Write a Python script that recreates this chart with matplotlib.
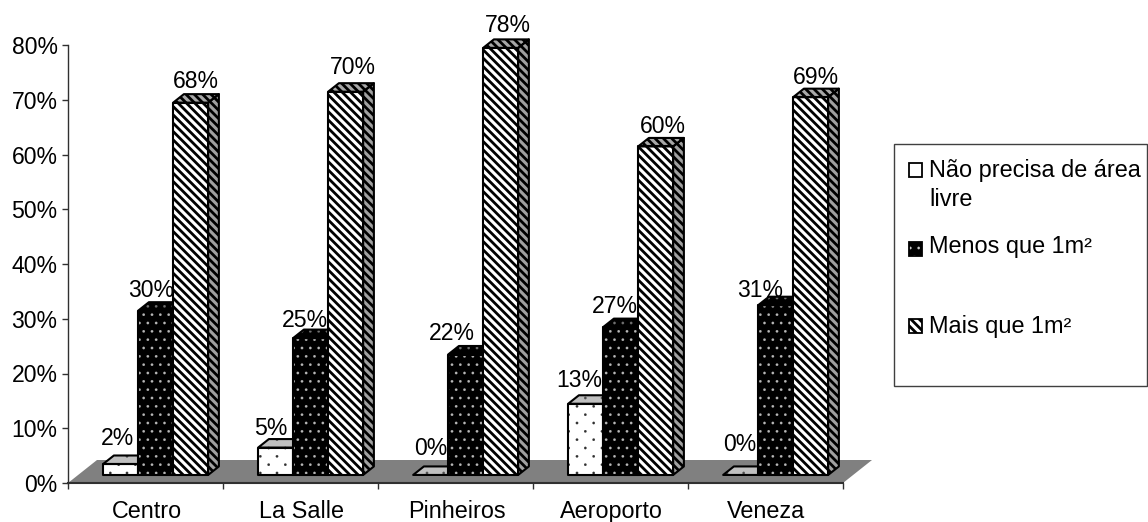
import numpy as np
import matplotlib
matplotlib.use("Agg")
import matplotlib.pyplot as plt
from matplotlib import hatch as mhatch
from matplotlib.path import Path
from matplotlib.patches import Polygon, Rectangle

plt.rcParams['font.family'] = ['Liberation Sans', 'DejaVu Sans']

categories = ['Centro', 'La Salle', 'Pinheiros', 'Aeroporto', 'Veneza']
series_names = ['Não precisa de área\nlivre', 'Menos que 1m²', 'Mais que 1m²']
sem_area = [2, 5, 0, 13, 0]
menos_1m = [30, 25, 22, 27, 31]
mais_1m = [68, 70, 78, 60, 69]
y_ticks = [0, 10, 20, 30, 40, 50, 60, 70, 80]


class StaggeredDots(mhatch.HatchPatternBase):
    """Filled dots in staggered rows; ':' is sparse, ';' is dense."""
    radius = 0.0125

    def __init__(self, hatch, density):
        self.centres = []
        if hatch.count(':') > 0:
            self.centres = self._lattice(6, 12)
        elif hatch.count(';') > 0:
            self.centres = self._lattice(12, 12)
        self.circle = Path.unit_circle()
        self.num_vertices = len(self.centres) * len(self.circle.vertices)

    @staticmethod
    def _lattice(cols, rows):
        pts = []
        for r in range(rows):
            shift = 0.5 / cols if r % 2 else 0.0
            for c in range(cols):
                pts.append((c / cols + shift + 0.02, r / rows + 0.02))
        return pts

    def set_vertices_and_codes(self, vertices, codes):
        n = len(self.circle.vertices)
        for i, (cx, cy) in enumerate(self.centres):
            vertices[i * n:(i + 1) * n] = self.circle.vertices * self.radius + (cx, cy)
            codes[i * n:(i + 1) * n] = self.circle.codes


mhatch._hatch_types.append(StaggeredDots)

W, H = 1148, 522
fig = plt.figure(figsize=(W / 100, H / 100), dpi=100, facecolor='white')
ax = fig.add_axes([68 / W, 1 - 483 / H, 775 / W, 438 / H])
ax.set_xlim(0, 5)
ax.set_ylim(0, 80)
ax.patch.set_visible(False)

px_x = 5 / 775
px_y = 80 / 438
depth_x = 29 * px_x
depth_y = 23 * px_y
front = 0.35
back = 0.72
bar_w = 35 * px_x
first_offset = 25 * px_x


def project(x, y, d):
    return (x + d * depth_x, y + d * depth_y)


# floor of the 3-D box
ax.add_patch(Polygon([project(0, 0, 0), project(5, 0, 0), project(5, 0, 1), project(0, 0, 1)],
                     closed=True, fc='#808080', ec='none', zorder=1, clip_on=False))
ax.plot([0, 5], [0, 0], color='#303030', lw=1.5, zorder=1.5, clip_on=False)

STRIPES = '\\\\\\\\'
styles = [
    dict(front=('white', '#303030', ':', 0.1), top=('#c0c0c0', '#505050', ':', 0.1), side=('#808080', '#202020', ':', 0.1)),
    dict(front=('black', '#b8b8b8', ';', 0.1), top=('black', '#707070', ';', 0.1), side=('black', '#707070', ';', 0.1)),
    dict(front=('white', 'black', STRIPES, 2.0), top=('#a8a8a8', 'black', STRIPES, 2.0), side=('#a0a0a0', 'black', STRIPES, 2.0)),
]


def face(points, style, z):
    fc, hc, hatch, hlw = style
    ax.add_patch(Polygon(points, closed=True, fc=fc, ec=hc, hatch=hatch, lw=0, zorder=z,
                         clip_on=False, hatch_linewidth=hlw))
    ax.add_patch(Polygon(points, closed=True, fc='none', ec='black', lw=1.5, zorder=z + 0.1,
                         clip_on=False, joinstyle='round'))


all_series = [sem_area, menos_1m, mais_1m]
for g in range(len(categories)):
    for s, values in enumerate(all_series):
        v = values[g]
        x0 = g + first_offset + s * bar_w
        x1 = x0 + bar_w
        z = 3 + g + s * 0.2
        st = styles[s]
        if v > 0:
            face([project(x0, 0, front), project(x1, 0, front), project(x1, v, front), project(x0, v, front)],
                 st['front'], z + 0.1)
        face([project(x0, v, front), project(x1, v, front), project(x1, v, back), project(x0, v, back)],
             st['top'], z)
        if v > 0:
            face([project(x1, 0, front), project(x1, 0, back), project(x1, v, back), project(x1, v, front)],
                 st['side'], z)

# hand-set nudges (in pixels) that keep each value label clear of its bar
lifts = [[10, 4, 11, 8, 15], [5, 3, 6, 6, 0], [6, 9, 7, 5, 5]]
shifts = [[-9, -10, -5, -12, -6], [-10, -11, -19, -11, -21], [0, 2, 2, 2, 0]]
for s, values in enumerate(all_series):
    for g, v in enumerate(values):
        x0 = g + first_offset + s * bar_w
        cx, cy = project(x0 + bar_w / 2, v, back)
        cx -= (back - front) * depth_x / 2
        ax.annotate(f'{v}%', (cx, cy), xytext=(shifts[s][g] * 0.72, lifts[s][g] * 0.72),
                    textcoords='offset points', ha='center', va='baseline',
                    fontsize=16.6, color='black', zorder=20, annotation_clip=False)

ax.spines['top'].set_visible(False)
ax.spines['right'].set_visible(False)
ax.spines['bottom'].set_visible(False)
ax.spines['left'].set_linewidth(1.0)
ax.spines['left'].set_color('#303030')
ax.set_yticks(y_ticks)
ax.set_yticklabels([f'{t}%' for t in y_ticks], fontsize=16.6)
ax.set_xticks(range(6))
ax.set_xticklabels([])
ax.tick_params(axis='both', length=4, width=1, color='#303030')
for g, name in enumerate(categories):
    ax.text(g + 0.5 + px_x, -35 * px_y, name, ha='center', va='baseline', fontsize=16.8, clip_on=False)

# legend panel, placed in figure pixels
fig.add_artist(Rectangle((894 / W, 1 - 386 / H), 253 / W, 242 / H, transform=fig.transFigure,
                         fc='white', ec='#404040', lw=1))
swatches = [(163, ('white', 'black', '', 0.1)), (242, ('black', '#c8c8c8', ';', 0.1)), (319, ('white', 'black', STRIPES, 2.0))]
for top, (fc, hc, hatch, hlw) in swatches:
    fig.add_artist(Rectangle((909 / W, 1 - (top + 14) / H), 13 / W, 14 / H, transform=fig.transFigure,
                             fc=fc, ec=hc, hatch=hatch, lw=0, hatch_linewidth=hlw))
    fig.add_artist(Rectangle((909 / W, 1 - (top + 14) / H), 13 / W, 14 / H, transform=fig.transFigure,
                             fc='none', ec='black', lw=1.3))
for y, text in zip([185, 247, 327], series_names):
    fig.text(929 / W, 1 - y / H, text, fontsize=16.9, va='center', ha='left', linespacing=1.28)

fig.savefig('out.png', dpi=100)
